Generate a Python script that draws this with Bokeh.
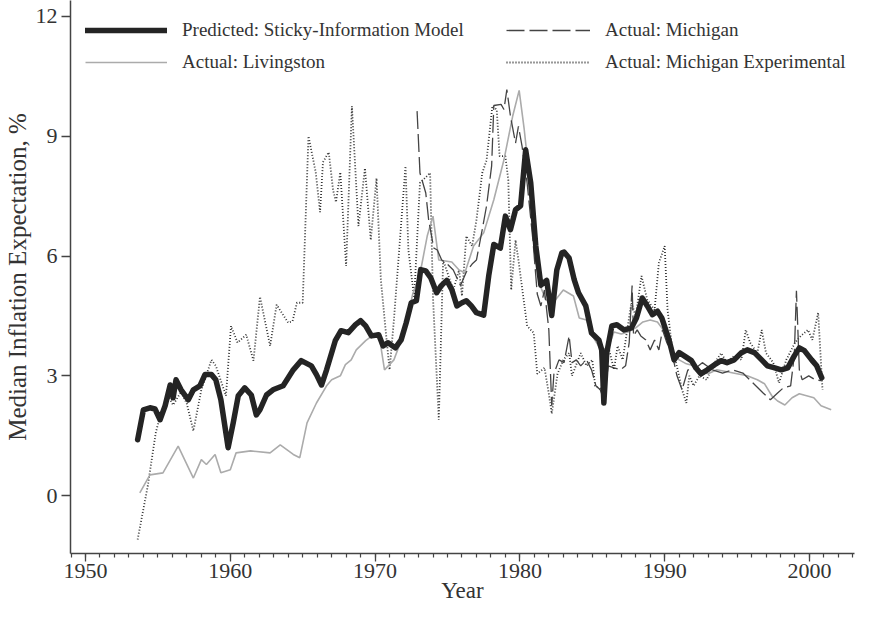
from bokeh.plotting import figure
from bokeh.models import (Range1d, SingleIntervalTicker, FixedTicker, Legend, LegendItem)
from bokeh.embed import file_html
from bokeh.resources import INLINE

# ---------------- data ----------------
pred_year = [1953.6, 1954.0, 1954.45, 1954.8, 1955.15, 1955.5, 1955.85, 1956.05, 1956.25, 1956.6,
             1957.1, 1957.45, 1957.9, 1958.25, 1958.7, 1959.0, 1959.35, 1959.85, 1960.2, 1960.55,
             1961.0, 1961.45, 1961.8, 1962.05, 1962.5, 1962.95, 1963.65, 1964.35, 1964.9, 1965.6,
             1965.95, 1966.3, 1966.65, 1967.25, 1967.65, 1968.15, 1968.65, 1969.0, 1969.35, 1969.75,
             1970.25, 1970.55, 1970.9, 1971.4, 1971.8, 1972.15, 1972.5, 1972.85, 1973.15, 1973.5,
             1973.85, 1974.25, 1974.55, 1974.95, 1975.3, 1975.65, 1976.0, 1976.3, 1976.65, 1977.0,
             1977.5, 1977.85, 1978.2, 1978.65, 1979.0, 1979.35, 1979.7, 1980.05, 1980.4, 1980.75,
             1981.1, 1981.45, 1981.85, 1982.2, 1982.55, 1982.9, 1983.05, 1983.4, 1983.75, 1984.05,
             1984.55, 1984.95, 1985.45, 1985.65, 1985.8, 1986.0, 1986.35, 1986.7, 1987.2, 1987.7,
             1988.05, 1988.45, 1988.8, 1989.15, 1989.5, 1989.8, 1990.3, 1990.65, 1991.0, 1991.35,
             1991.85, 1992.15, 1992.5, 1992.95, 1993.45, 1993.9, 1994.3, 1994.8, 1995.3, 1995.7,
             1996.2, 1996.7, 1997.1, 1997.6, 1998.05, 1998.5, 1998.95, 1999.3, 1999.65, 2000.15,
             2000.5, 2000.85]
pred_val = [1.40, 2.15, 2.20, 2.17, 1.90, 2.25, 2.77, 2.45, 2.90, 2.65,
            2.40, 2.65, 2.75, 3.03, 3.03, 2.90, 2.40, 1.20, 1.82, 2.50,
            2.70, 2.52, 2.02, 2.15, 2.52, 2.65, 2.75, 3.15, 3.38, 3.25,
            3.03, 2.77, 3.15, 3.88, 4.13, 4.08, 4.28, 4.38, 4.25, 4.00,
            4.03, 3.75, 3.83, 3.70, 3.90, 4.33, 4.83, 4.88, 5.66, 5.63,
            5.45, 5.08, 5.25, 5.39, 5.16, 4.75, 4.83, 4.88, 4.75, 4.58,
            4.52, 5.51, 6.29, 6.20, 7.00, 6.66, 7.16, 7.26, 8.66, 7.83,
            6.25, 5.27, 5.39, 4.51, 5.65, 6.08, 6.10, 5.95, 5.41, 5.08,
            4.75, 4.07, 3.90, 3.65, 2.32, 3.58, 4.25, 4.28, 4.15, 4.20,
            4.45, 4.95, 4.75, 4.53, 4.62, 4.45, 3.90, 3.40, 3.58, 3.50,
            3.38, 3.20, 3.05, 3.15, 3.28, 3.38, 3.33, 3.40, 3.58, 3.65,
            3.58, 3.40, 3.25, 3.20, 3.15, 3.20, 3.50, 3.70, 3.63, 3.40,
            3.25, 2.95]

liv_year = [1953.75, 1954.45, 1955.35, 1956.4, 1956.95, 1957.45, 1958.0, 1958.35, 1958.95, 1959.35,
            1960.0, 1960.4, 1961.4, 1962.75, 1963.45, 1964.35, 1964.8, 1965.3, 1965.95, 1966.65,
            1967.0, 1967.6, 1967.95, 1968.35, 1968.7, 1969.35, 1969.9, 1970.25, 1970.65, 1971.3,
            1972.0, 1972.6, 1973.1, 1973.6, 1974.0, 1974.4, 1975.3, 1975.8, 1976.2, 1976.8,
            1977.5, 1978.2, 1978.9, 1979.5, 1979.95, 1980.3, 1980.55, 1980.8, 1981.05, 1981.4,
            1981.8, 1982.3, 1983.0, 1983.7, 1984.1, 1984.6, 1985.0, 1985.6, 1986.1, 1986.5,
            1987.0, 1987.5, 1988.0, 1988.5, 1989.0, 1989.5, 1990.0, 1990.5, 1991.0, 1991.5,
            1992.0, 1992.5, 1993.0, 1993.6, 1994.3, 1995.0, 1995.7, 1996.4, 1996.9, 1997.4,
            1997.8, 1998.3, 1998.8, 1999.3, 1999.8, 2000.3, 2000.8, 2001.5]
liv_val = [0.07, 0.52, 0.57, 1.24, 0.82, 0.44, 0.90, 0.78, 1.03, 0.57,
           0.65, 1.07, 1.12, 1.07, 1.27, 1.03, 0.95, 1.82, 2.32, 2.75,
           2.90, 3.00, 3.28, 3.40, 3.65, 3.88, 4.03, 4.08, 3.15, 3.40,
           4.08, 5.05, 5.55, 6.50, 7.00, 5.90, 5.85, 5.65, 5.58, 6.25,
           6.58, 7.41, 8.41, 9.50, 10.15, 9.17, 8.33, 7.50, 6.25, 5.26,
           4.90, 4.83, 5.15, 5.00, 4.45, 4.40, 4.00, 3.65, 3.70, 4.10,
           4.05, 4.10, 4.20, 4.35, 4.40, 4.35, 4.10, 3.60, 3.40, 3.30,
           3.25, 3.10, 3.05, 3.15, 3.10, 3.05, 3.00, 2.90, 2.80, 2.50,
           2.37, 2.27, 2.45, 2.55, 2.50, 2.45, 2.25, 2.15]

mich_year = [1972.9, 1973.1, 1973.5, 1973.7, 1974.05, 1974.3, 1974.6, 1974.9, 1975.4, 1975.9,
             1976.3, 1976.7, 1977.0, 1977.4, 1977.7, 1978.05, 1978.2, 1978.7, 1978.9, 1979.1,
             1979.35, 1979.7, 1979.9, 1980.15, 1980.5, 1980.9, 1981.2, 1981.45, 1981.7, 1982.0,
             1982.2, 1982.35, 1982.7, 1983.05, 1983.4, 1983.6, 1983.9, 1984.2, 1984.6, 1984.95,
             1985.25, 1985.55, 1985.8, 1986.1, 1986.5, 1986.95, 1987.3, 1987.55, 1987.75, 1987.85,
             1988.1, 1988.35, 1988.7, 1989.0, 1989.3, 1989.6, 1989.85, 1990.15, 1990.5, 1990.85,
             1991.2, 1991.6, 1992.0, 1992.6, 1993.3, 1994.0, 1994.7, 1995.4, 1996.1, 1996.8,
             1997.3, 1997.8, 1998.2, 1998.7, 1998.95, 1999.1, 1999.3, 1999.5, 1999.95, 2000.4,
             2000.8]
mich_val = [9.63, 8.08, 7.58, 6.90, 6.20, 6.15, 5.90, 5.83, 5.65, 5.26,
            5.60, 5.80, 5.90, 6.66, 7.26, 8.26, 9.77, 9.80, 9.67, 10.17,
            9.50, 8.83, 9.25, 8.75, 7.83, 6.40, 5.05, 4.75, 5.15, 4.15,
            2.25, 3.05, 3.40, 3.33, 4.00, 3.33, 3.40, 3.25, 3.40, 3.15,
            2.75, 2.65, 2.40, 3.25, 3.20, 3.15, 3.25, 3.83, 5.26, 4.00,
            4.15, 4.00, 3.90, 3.65, 3.90, 3.65, 4.15, 3.83, 3.57, 3.00,
            2.65, 3.15, 3.15, 3.33, 3.15, 3.07, 3.15, 3.07, 2.82, 2.57,
            2.40, 2.57, 2.70, 2.75, 3.50, 5.13, 3.15, 2.90, 3.00, 2.90,
            2.88]

exp_year = [1953.6, 1954.3, 1954.85, 1955.2, 1955.7, 1956.05, 1956.6, 1957.0, 1957.45, 1958.0,
            1958.7, 1959.0, 1959.7, 1960.05, 1960.5, 1961.1, 1961.6, 1962.05, 1962.75, 1963.2,
            1964.0, 1964.3, 1964.6, 1965.0, 1965.4, 1965.9, 1966.2, 1966.4, 1966.8, 1967.1,
            1967.3, 1967.6, 1968.0, 1968.4, 1968.85, 1969.3, 1969.7, 1970.1, 1970.4, 1970.7,
            1971.0, 1971.3, 1972.1, 1972.3, 1972.7, 1973.1, 1973.8, 1974.0, 1974.4, 1974.7,
            1975.4, 1975.8, 1976.0, 1976.3, 1976.7, 1977.0, 1977.4, 1977.7, 1978.1, 1978.4,
            1978.6, 1979.0, 1979.2, 1979.4, 1979.7, 1979.9, 1980.5, 1980.96, 1981.2, 1981.7,
            1982.0, 1982.2, 1982.6, 1983.0, 1983.4, 1983.6, 1984.2, 1984.6, 1985.0, 1985.2,
            1985.6, 1986.1, 1986.5, 1986.75, 1987.1, 1987.7, 1988.0, 1988.4, 1988.8, 1989.3,
            1989.6, 1990.0, 1990.2, 1990.5, 1990.9, 1991.2, 1991.5, 1991.7, 1992.0, 1992.4,
            1992.9, 1993.4, 1993.9, 1994.3, 1994.8, 1995.3, 1995.6, 1995.9, 1996.4, 1996.7,
            1997.0, 1997.5, 1997.9, 1998.4, 1999.0, 1999.4, 1999.9, 2000.2, 2000.6, 2000.9]
exp_val = [-1.10, 0.24, 1.57, 2.07, 2.50, 2.27, 2.60, 2.30, 1.62, 2.65,
           3.40, 3.25, 2.50, 4.25, 3.83, 4.03, 3.38, 4.98, 3.75, 4.78,
           4.33, 4.37, 4.83, 4.83, 9.00, 8.10, 7.10, 8.35, 8.60, 7.65,
           7.35, 8.10, 5.75, 9.75, 6.75, 8.20, 6.40, 7.95, 5.40, 4.25,
           3.15, 4.40, 8.25, 6.15, 4.95, 7.83, 8.08, 4.95, 1.90, 5.90,
           5.15, 5.65, 5.00, 6.50, 6.25, 6.90, 8.08, 8.40, 9.76, 9.67,
           8.50, 8.50, 7.90, 5.15, 6.40, 5.90, 4.25, 4.07, 3.05, 3.20,
           2.55, 2.05, 3.05, 3.40, 3.57, 3.00, 3.57, 3.25, 3.40, 2.75,
           2.65, 3.75, 3.15, 3.75, 3.40, 4.83, 4.50, 5.50, 4.90, 4.65,
           5.83, 6.25, 4.65, 3.75, 3.15, 2.65, 2.32, 3.00, 2.75, 3.00,
           2.90, 3.30, 3.57, 3.33, 3.50, 3.40, 4.15, 3.83, 3.57, 4.15,
           3.57, 3.33, 2.82, 3.40, 3.83, 4.00, 4.15, 3.90, 4.58, 2.65]

y_ticks = [0, 3, 6, 9, 12]

labels = ["Predicted: Sticky-Information Model", "Actual: Livingston",
          "Actual: Michigan", "Actual: Michigan Experimental"]

# ---------------- figure ----------------
FONT = "Liberation Serif"
TXT = "#333333"

p = figure(width=856, height=605, output_backend="svg", toolbar_location=None,
           x_range=Range1d(1948.964, 2003.11), y_range=Range1d(-1.45, 12.4),
           min_border_left=70, min_border_right=2, min_border_top=0, min_border_bottom=52,
           background_fill_color="white", border_fill_color="white")
p.outline_line_color = None
p.grid.visible = False

p.xaxis.ticker = SingleIntervalTicker(interval=10, num_minor_ticks=10)
p.yaxis.ticker = FixedTicker(ticks=y_ticks)
for ax in (p.xaxis, p.yaxis):
    ax.axis_line_color = "#444444"
    ax.axis_line_width = 1.5
    ax.major_tick_line_color = "#444444"
    ax.major_tick_line_width = 1.3
    ax.minor_tick_line_color = "#444444"
    ax.minor_tick_line_width = 1.2
    ax.major_tick_in = 0
    ax.minor_tick_in = 0
    ax.major_label_text_font = FONT
    ax.major_label_text_font_size = "22px"
    ax.major_label_text_color = TXT
    ax.axis_label_text_font = FONT
    ax.axis_label_text_font_style = "normal"
    ax.axis_label_text_color = TXT

p.xaxis.major_tick_out = 8
p.xaxis.minor_tick_out = 4
p.xaxis.major_label_standoff = 2
p.xaxis.axis_label = "Year"
p.xaxis.axis_label_text_font_size = "23px"
p.xaxis.axis_label_standoff = -3

p.yaxis.major_tick_out = 9
p.yaxis.minor_tick_out = 0
p.yaxis.major_label_standoff = 4
p.yaxis.axis_label = "Median Inflation Expectation, %"
p.yaxis.axis_label_text_font_size = "25px"
p.yaxis.axis_label_standoff = 2

r_exp = p.line(exp_year, exp_val, line_color="#333333", line_width=1.8, line_dash="1 2")
r_liv = p.line(liv_year, liv_val, line_color="#ababab", line_width=1.6)
r_mich = p.line(mich_year, mich_val, line_color="#444444", line_width=1.3, line_dash="18 5")
r_pred = p.line(pred_year, pred_val, line_color="#242424", line_width=5.5,
                line_join="round", line_cap="round")

def make_legend(items, x, y, gw):
    lg = Legend(items=items, location=(x, y), orientation="vertical",
                padding=0, margin=0, spacing=10, glyph_width=gw, glyph_height=20,
                label_height=20, label_standoff=15, border_line_color=None,
                background_fill_alpha=0, label_text_font=FONT,
                label_text_font_size="19px", label_text_color=TXT)
    return lg

lg1 = make_legend([LegendItem(label=labels[0], renderers=[r_pred]),
                   LegendItem(label=labels[1], renderers=[r_liv])], 15, 480, 82)
lg2 = make_legend([LegendItem(label=labels[2], renderers=[r_mich]),
                   LegendItem(label=labels[3], renderers=[r_exp])], 436, 480, 84)
p.add_layout(lg1)
p.add_layout(lg2)

open("out.html", "w").write(file_html(p, INLINE))
